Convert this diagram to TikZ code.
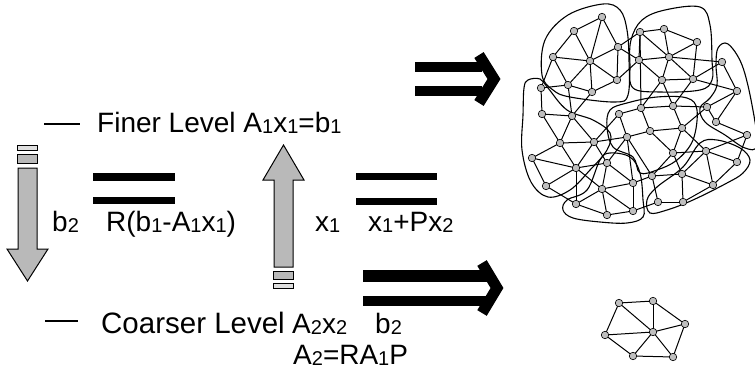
\documentclass[tikz,border=0pt]{standalone}
\usepackage{fontspec}
\setmainfont{Liberation Sans}
\newcommand\sbd[1]{{\fontsize{20}{20}\selectfont\raisebox{-1pt}{#1}}}
\begin{document}
\begin{tikzpicture}[x=1pt,y=-1pt,
  lbl/.style={anchor=base west,inner sep=0pt,font=\fontsize{28}{30}\selectfont},
  bar/.style={fill=black,draw=none},
  chev/.style={line width=11pt,line join=miter},
  fat/.style={fill=gray!55,draw=black,line width=1pt},
  stripe/.style={fill=gray!25,draw=black,line width=0.8pt},
  vtx/.style={circle,draw=black,fill=gray!50,line width=0.6pt,inner sep=0pt,minimum size=7.5pt},
  edge/.style={line width=1pt},
  blob/.style={line width=1.1pt}]
\useasboundingbox (0,0) rectangle (755,369);

% level markers and equations
\draw[line width=1.2pt] (44,124) -- (80,124);
\node[lbl] (fine) at (97,132) {Finer Level A\sbd{1}x\sbd{1}=b\sbd{1}};
\draw[line width=1.2pt] (45,321) -- (78,321);
\node[lbl,font=\fontsize{29.5}{31}\selectfont] (coarse) at (101,333) {Coarser Level};
\node[lbl] (ax2) at (292,333) {A\sbd{2}x\sbd{2}};
\node[lbl] (b2c) at (375,333) {b\sbd{2}};
\node[lbl] (a2) at (293,364) {A\sbd{2}=RA\sbd{1}P};

% restriction (down) arrow
\fill[stripe] (17,145) rectangle (37,150);
\fill[fat] (17,154) rectangle (37,163);
\draw[fat] (18,168) -- (37,168) -- (37,249) -- (48,249) -- (27.5,281) -- (7,249) -- (18,249) -- cycle;
\node[lbl] (b2) at (52,231) {b\sbd{2}};
\fill[bar] (93,173) rectangle (175,181);
\fill[bar] (93,197) rectangle (175,204);
\node[lbl] (res) at (106,231) {R(b\sbd{1}-A\sbd{1}x\sbd{1})};

% prolongation (up) arrow
\draw[fat] (274,267) -- (293,267) -- (293,180) -- (304,180) -- (283.5,145) -- (263,180) -- (274,180) -- cycle;
\fill[fat] (273,271) rectangle (293,279);
\fill[stripe] (273,283) rectangle (293,288);
\node[lbl] (x1) at (315,231) {x\sbd{1}};
\fill[bar] (356,173) rectangle (437,180);
\fill[bar] (356,198) rectangle (437,205);
\node[lbl] (cor) at (368,231) {x\sbd{1}+Px\sbd{2}};

% implication arrows towards the meshes
\fill[bar] (415,62) rectangle (482,72);
\fill[bar] (415,86) rectangle (482,96);
\draw[chev] (479,55) -- (494,79) -- (479,103);
\fill[bar] (363,270) rectangle (490,282);
\fill[bar] (363,296) rectangle (490,306);
\draw[chev] (482,263) -- (497,288) -- (482,313);

% partition outlines of the fine mesh
\draw[blob] plot[smooth cycle,tension=0.6] coordinates {(542,75) (545,40) (568,15) (603,4) (620,10) (627,30) (629,60) (628,95) (615,102) (570,97) (553,90)};
\draw[blob] plot[smooth cycle,tension=0.6] coordinates {(631,40) (642,20) (665,10) (700,7) (710,25) (712,60) (712,80) (700,90) (660,92) (633,88) (630,65)};
\draw[blob] plot[smooth cycle,tension=0.6] coordinates {(718,48) (728,44) (742,65) (752,105) (757,145) (745,148) (725,135) (705,122) (700,108) (710,98) (717,85) (716,65)};
\draw[blob] plot[smooth cycle,tension=0.6] coordinates {(528,80) (540,79) (548,88) (567,110) (593,120) (610,133) (607,150) (590,170) (570,190) (548,197) (531,182) (522,150) (523,115) (524,88)};
\draw[blob] plot[smooth cycle,tension=0.6] coordinates {(610,110) (627,103) (657,97) (687,98) (697,110) (693,140) (677,160) (657,170) (640,173) (633,157) (613,147) (607,127)};
\draw[blob] plot[smooth cycle,tension=0.6] coordinates {(563,210) (567,200) (587,190) (600,160) (610,153) (630,157) (640,173) (643,200) (643,217) (627,223) (600,222) (573,218)};
\draw[blob] plot[smooth cycle,tension=0.6] coordinates {(647,200) (657,187) (683,167) (700,143) (717,140) (740,148) (750,160) (743,173) (727,183) (693,200) (667,210) (650,213)};

% fine mesh
\foreach \n/\p in {1/{602,17},2/{574,31},3/{640,32},4/{664,29},5/{618,47},6/{697,42},
  7/{553,57},8/{590,61},9/{639,60},10/{669,57},11/{722,62},12/{568,85},13/{617,80},
  14/{662,80},15/{693,79},16/{541,88},17/{592,92},18/{737,91},19/{641,108},20/{673,106},
  21/{707,107},22/{542,114},23/{572,116},24/{619,114},25/{716,122},26/{650,131},
  27/{682,128},28/{627,137},29/{747,135},30/{560,143},31/{594,142},32/{706,151},
  33/{673,153},34/{532,158},35/{607,163},36/{737,162},37/{576,168},38/{682,174},
  39/{652,176},40/{546,186},41/{602,189},42/{633,183},43/{713,185},44/{576,204},
  45/{658,202},46/{683,202},47/{607,215},48/{633,211}}
  \coordinate (f\n) at (\p);
\foreach \a/\b in {1/2,1/5,1/8,2/7,2/8,7/8,7/12,7/16,8/5,8/13,8/12,8/17,5/13,5/3,5/9,
  12/16,12/17,12/23,13/17,13/9,3/4,3/9,3/10,3/19,4/6,4/10,6/10,6/15,9/10,9/14,10/14,
  10/15,10/11,11/15,11/18,14/15,14/19,14/20,15/20,15/18,18/21,18/25,19/20,19/24,19/26,
  20/21,20/27,21/25,21/27,25/29,22/23,22/30,16/22,23/30,23/31,17/23,24/28,24/31,
  26/27,26/28,26/33,27/32,27/33,28/31,28/35,28/42,28/39,29/32,29/36,30/31,30/34,
  30/37,31/35,31/37,32/33,32/36,32/43,32/38,33/38,33/39,34/37,34/40,35/37,35/41,
  35/42,36/43,37/40,37/41,37/44,38/39,38/46,38/43,39/42,39/45,40/44,41/44,41/47,
  41/48,41/42,42/48,43/46,45/46,45/48,44/47,47/48}
  \draw[edge] (f\a) -- (f\b);
\foreach \n in {1,...,48} \node[vtx] (v\n) at (f\n) {};

% coarse mesh
\foreach \n/\p in {1/{619,303},2/{653,301},3/{685,324},4/{653,332},5/{605,335},6/{633,356},7/{673,357}}
  \coordinate (c\n) at (\p);
\foreach \a/\b in {1/2,1/5,1/4,2/4,2/3,3/4,3/7,4/5,4/6,4/7,5/6,6/7}
  \draw[edge] (c\a) -- (c\b);
\foreach \n in {1,...,7} \node[vtx] (w\n) at (c\n) {};
\end{tikzpicture}
\end{document}
